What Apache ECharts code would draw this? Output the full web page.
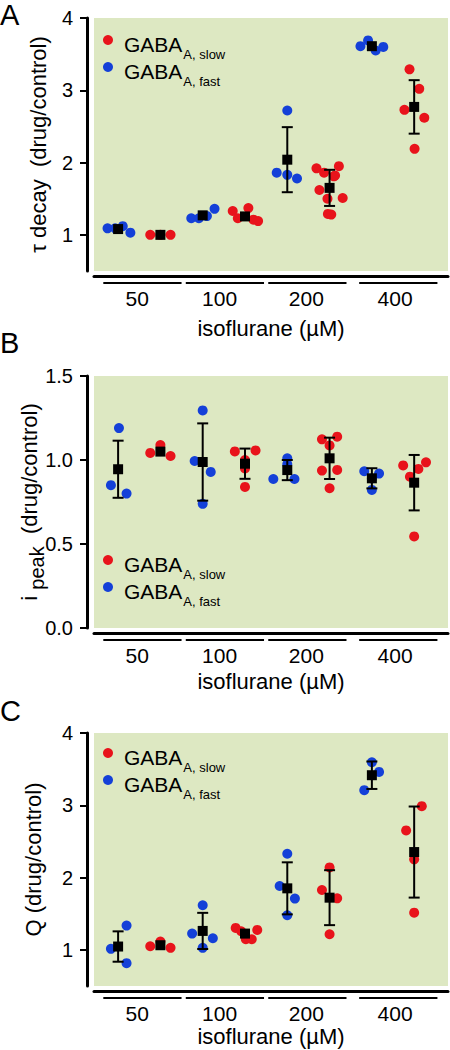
<!DOCTYPE html>
<html><head><meta charset="utf-8">
<script src="https://cdn.jsdelivr.net/npm/echarts@6/dist/echarts.min.js"></script>
<style>html,body{margin:0;padding:0;background:#fff}#c{width:450px;height:1050px}</style>
</head><body><div id="c"></div>
<script>
// ---------- shared categories ----------
const groupLabels = ['50', '100', '200', '400'];
const groupLabelX = [1.45, 3.4, 5.45, 7.55];
const groupSegStart = [0.65, 2.6, 4.55, 6.7];
const groupSegEnd = [2.5, 4.45, 6.4, 8.55];
const meanX = [1, 2, 3, 4, 5, 6, 7, 8];
const xTitle = 'isoflurane (µM)';
const slowName = 'GABAA, slow';
const fastName = 'GABAA, fast';

// ---------- panel A : tau decay ----------
const tauFast = [[0.75,1.09],[0.93,1.09],[1.11,1.12],[1.29,1.03],
  [2.73,1.23],[2.91,1.23],[3.10,1.26],[3.28,1.36],
  [5.0,2.72],[4.75,1.86],[5.0,1.83],[5.23,1.78],
  [6.73,3.61],[6.91,3.69],[7.09,3.55],[7.27,3.60]];
const tauSlow = [[1.76,1.00],[2.0,1.00],[2.24,1.00],
  [3.71,1.33],[3.83,1.23],[4.08,1.37],[4.20,1.21],[4.31,1.19],
  [5.69,1.92],[5.87,1.86],[6.10,1.81],[6.13,1.82],[6.22,1.95],[5.76,1.62],[5.95,1.50],[6.31,1.51],[5.96,1.29],[6.04,1.28],
  [7.89,3.29],[8.12,3.02],[7.77,2.73],[8.24,2.62],[8.01,2.19]];
const tauMean = [1.08, 1.00, 1.27, 1.255, 2.04, 1.65, 3.61, 2.77];
const tauErr = [0, 0, 0, 0, 0.45, 0.25, 0, 0.37];
const tauTicks = [1, 2, 3, 4];
const tauTickLabels = ['1', '2', '3', '4'];

// ---------- panel B : i peak ----------
const ipFast = [[1.02,1.19],[0.83,0.85],[1.2,0.80],
  [3.0,1.295],[2.81,0.994],[3.19,0.929],[3.0,0.739],
  [4.67,0.887],[5.0,1.01],[5.17,0.887],[5.0,0.975],
  [6.82,0.933],[7.17,0.919],[7.0,0.822],[7.0,0.89]];
const ipSlow = [[1.76,1.042],[2.0,1.089],[2.24,1.024],
  [3.76,1.051],[4.25,1.057],[4.0,1.0],[4.0,0.95],[4.0,0.84],
  [5.82,1.123],[6.0,1.087],[6.18,1.139],[5.82,0.937],[6.18,0.941],[6.0,0.832],
  [7.74,0.968],[8.10,0.947],[8.28,0.986],[7.90,0.901],[8.0,0.545]];
const ipMean = [0.945, 1.05, 0.988, 0.978, 0.94, 1.01, 0.891, 0.865];
const ipErr = [0.17, 0, 0.23, 0.09, 0.06, 0.123, 0.06, 0.165];
const ipTicks = [0, 0.5, 1.0, 1.5];
const ipTickLabels = ['0.0', '0.5', '1.0', '1.5'];

// ---------- panel C : Q ----------
const qFast = [[0.83,1.014],[1.2,1.336],[1.2,0.816],
  [3.0,1.617],[2.75,1.225],[3.24,1.161],[3.0,1.028],
  [5.0,2.33],[4.82,1.884],[5.18,1.709],[5.0,1.479],
  [6.82,3.209],[7.0,3.595],[7.17,3.462]];
const qSlow = [[1.76,1.05],[2.0,1.115],[2.24,1.028],
  [3.78,1.304],[3.91,1.258],[4.02,1.147],[4.16,1.147],[4.29,1.276],
  [6.0,2.141],[5.82,1.828],[6.18,1.713],[6.0,1.216],
  [8.18,2.988],[7.81,2.652],[8.0,2.252],[8.0,1.515]];
const qMean = [1.046, 1.064, 1.262, 1.225, 1.851, 1.722, 3.416, 2.353];
const qErr = [0.21, 0, 0.25, 0, 0.36, 0.38, 0.19, 0.63];
const qTicks = [1, 2, 3, 4];
const qTickLabels = ['1', '2', '3', '4'];

// ---------- build ----------
const FONT = 'Liberation Sans, Arial, sans-serif';
const RED = '#e8131b', BLUE = '#1440d8', BG = '#dde8c2';

const panels = [
  {letter:'A', letterTop:0, top:18, height:253, yMin:0.5, yMax:4, ticks:tauTicks, tickLabels:tauTickLabels,
   name:'τ decay  (drug/control)', nameGap:38, xNameGap:41, legendTop:19.5,
   fast:tauFast, slow:tauSlow, mean:tauMean, err:tauErr},
  {letter:'B', letterTop:328, top:376, height:252, yMin:0, yMax:1.5, ticks:ipTicks, tickLabels:ipTickLabels,
   name:'{i|i} {p|peak}  (drug/control)', nameGap:40, xNameGap:37, legendTop:539.5,
   fast:ipFast, slow:ipSlow, mean:ipMean, err:ipErr},
  {letter:'C', letterTop:696, top:733, height:253, yMin:0.5, yMax:4, ticks:qTicks, tickLabels:qTickLabels,
   name:'Q (drug/control)', nameGap:43, xNameGap:34, legendTop:732.5,
   fast:qFast, slow:qSlow, mean:qMean, err:qErr}
];

const option = {animation:false, title:[], grid:[], xAxis:[], yAxis:[], legend:[], series:[]};

panels.forEach((p, i) => {
  option.title.push({text:p.letter, left:0, top:p.letterTop, padding:0,
    textStyle:{fontSize:29, fontWeight:'normal', color:'#000', fontFamily:FONT}});
  option.grid.push({left:94, width:354, top:p.top, height:p.height, show:true,
    backgroundColor:BG, borderWidth:0});
  option.xAxis.push({gridIndex:i, type:'value', min:0.43, max:8.8, offset:5,
    axisLine:{show:true, onZero:false, lineStyle:{color:'#000', width:3}},
    axisTick:{show:false}, axisLabel:{show:false}, splitLine:{show:false},
    name:xTitle, nameLocation:'middle', nameGap:p.xNameGap, nameMoveOverlap:false,
    nameTextStyle:{fontSize:22, color:'#000', fontFamily:FONT}});
  const tl = p.tickLabels, tv = p.ticks;
  option.yAxis.push({gridIndex:i, type:'value', min:p.yMin, max:p.yMax, offset:7,
    axisLine:{show:true, onZero:false, lineStyle:{color:'#000', width:3}},
    axisTick:{show:true, length:7, customValues:tv, lineStyle:{color:'#000', width:2}},
    axisLabel:{customValues:tv, margin:14, fontSize:20, color:'#000', fontFamily:FONT,
      formatter:(v)=>{const k = tv.findIndex(t=>Math.abs(t-v)<1e-9); return k>=0 ? tl[k] : '';}},
    splitLine:{show:false},
    name:p.name, nameLocation:'middle', nameGap:p.nameGap, nameMoveOverlap:false,
    nameTextStyle:{fontSize:22, color:'#000', fontFamily:FONT,
      rich:{i:{fontSize:22, fontFamily:FONT, color:'#000'},
            p:{fontSize:20, fontFamily:FONT, color:'#000', padding:[16,0,0,0]}}}});
  option.legend.push({data:[slowName, fastName], orient:'vertical', left:103, top:p.legendTop,
    padding:0, itemWidth:22, itemHeight:10, itemGap:-14, icon:'circle', selectedMode:false,
    formatter:(n)=> n===slowName ? '{a|GABA}{b|A, slow}' : '{a|GABA}{b|A, fast}',
    textStyle:{color:'#000', fontFamily:FONT, rich:{
      a:{fontSize:21, lineHeight:21, fontFamily:FONT, color:'#000', padding:[8,0,0,0]},
      b:{fontSize:13, lineHeight:13, fontFamily:FONT, color:'#000', padding:[28,0,0,1]}}}});

  option.series.push({type:'scatter', name:slowName, xAxisIndex:i, yAxisIndex:i,
    data:p.slow, symbol:'circle', symbolSize:10, itemStyle:{color:RED, opacity:1}, z:2});
  option.series.push({type:'scatter', name:fastName, xAxisIndex:i, yAxisIndex:i,
    data:p.fast, symbol:'circle', symbolSize:10, itemStyle:{color:BLUE, opacity:1}, z:2});
  option.series.push({type:'custom', xAxisIndex:i, yAxisIndex:i, z:3,
    data:meanX.map((x,k)=>[x, p.mean[k], p.err[k]]),
    renderItem:(params, api)=>{
      const x = api.value(0), m = api.value(1), e = api.value(2);
      if (!(e > 0)) return null;
      const a = api.coord([x, m + e]), b = api.coord([x, m - e]);
      const st = {stroke:'#000', lineWidth:2};
      return {type:'group', children:[
        {type:'line', shape:{x1:a[0], y1:a[1], x2:b[0], y2:b[1]}, style:st},
        {type:'line', shape:{x1:a[0]-5.5, y1:a[1], x2:a[0]+5.5, y2:a[1]}, style:st},
        {type:'line', shape:{x1:b[0]-5.5, y1:b[1], x2:b[0]+5.5, y2:b[1]}, style:st}]};
    }});
  option.series.push({type:'scatter', xAxisIndex:i, yAxisIndex:i, z:4,
    data:meanX.map((x,k)=>[x, p.mean[k]]), symbol:'rect', symbolSize:10,
    itemStyle:{color:'#000', opacity:1}});
  // group bars and labels under the x axis
  option.series.push({type:'custom', xAxisIndex:i, yAxisIndex:i, clip:false, silent:true,
    data:groupLabels.map((l,k)=>[groupSegStart[k], groupSegEnd[k], groupLabelX[k], l]),
    renderItem:(params, api)=>{
      const bottom = params.coordSys.y + params.coordSys.height;
      const x0 = api.coord([api.value(0), p.yMin])[0];
      const x1 = api.coord([api.value(1), p.yMin])[0];
      const xl = api.coord([api.value(2), p.yMin])[0];
      return {type:'group', children:[
        {type:'line', shape:{x1:x0, y1:bottom+12, x2:x1, y2:bottom+12}, style:{stroke:'#000', lineWidth:2}},
        {type:'text', x:xl, y:bottom+27, style:{text:groupLabels[params.dataIndex], fontSize:21,
          fontFamily:FONT, fill:'#000', align:'center', verticalAlign:'middle'}}]};
    }});
});

const chart = echarts.init(document.getElementById('c'), null, {renderer:'svg'});
chart.setOption(option);
</script></body></html>
